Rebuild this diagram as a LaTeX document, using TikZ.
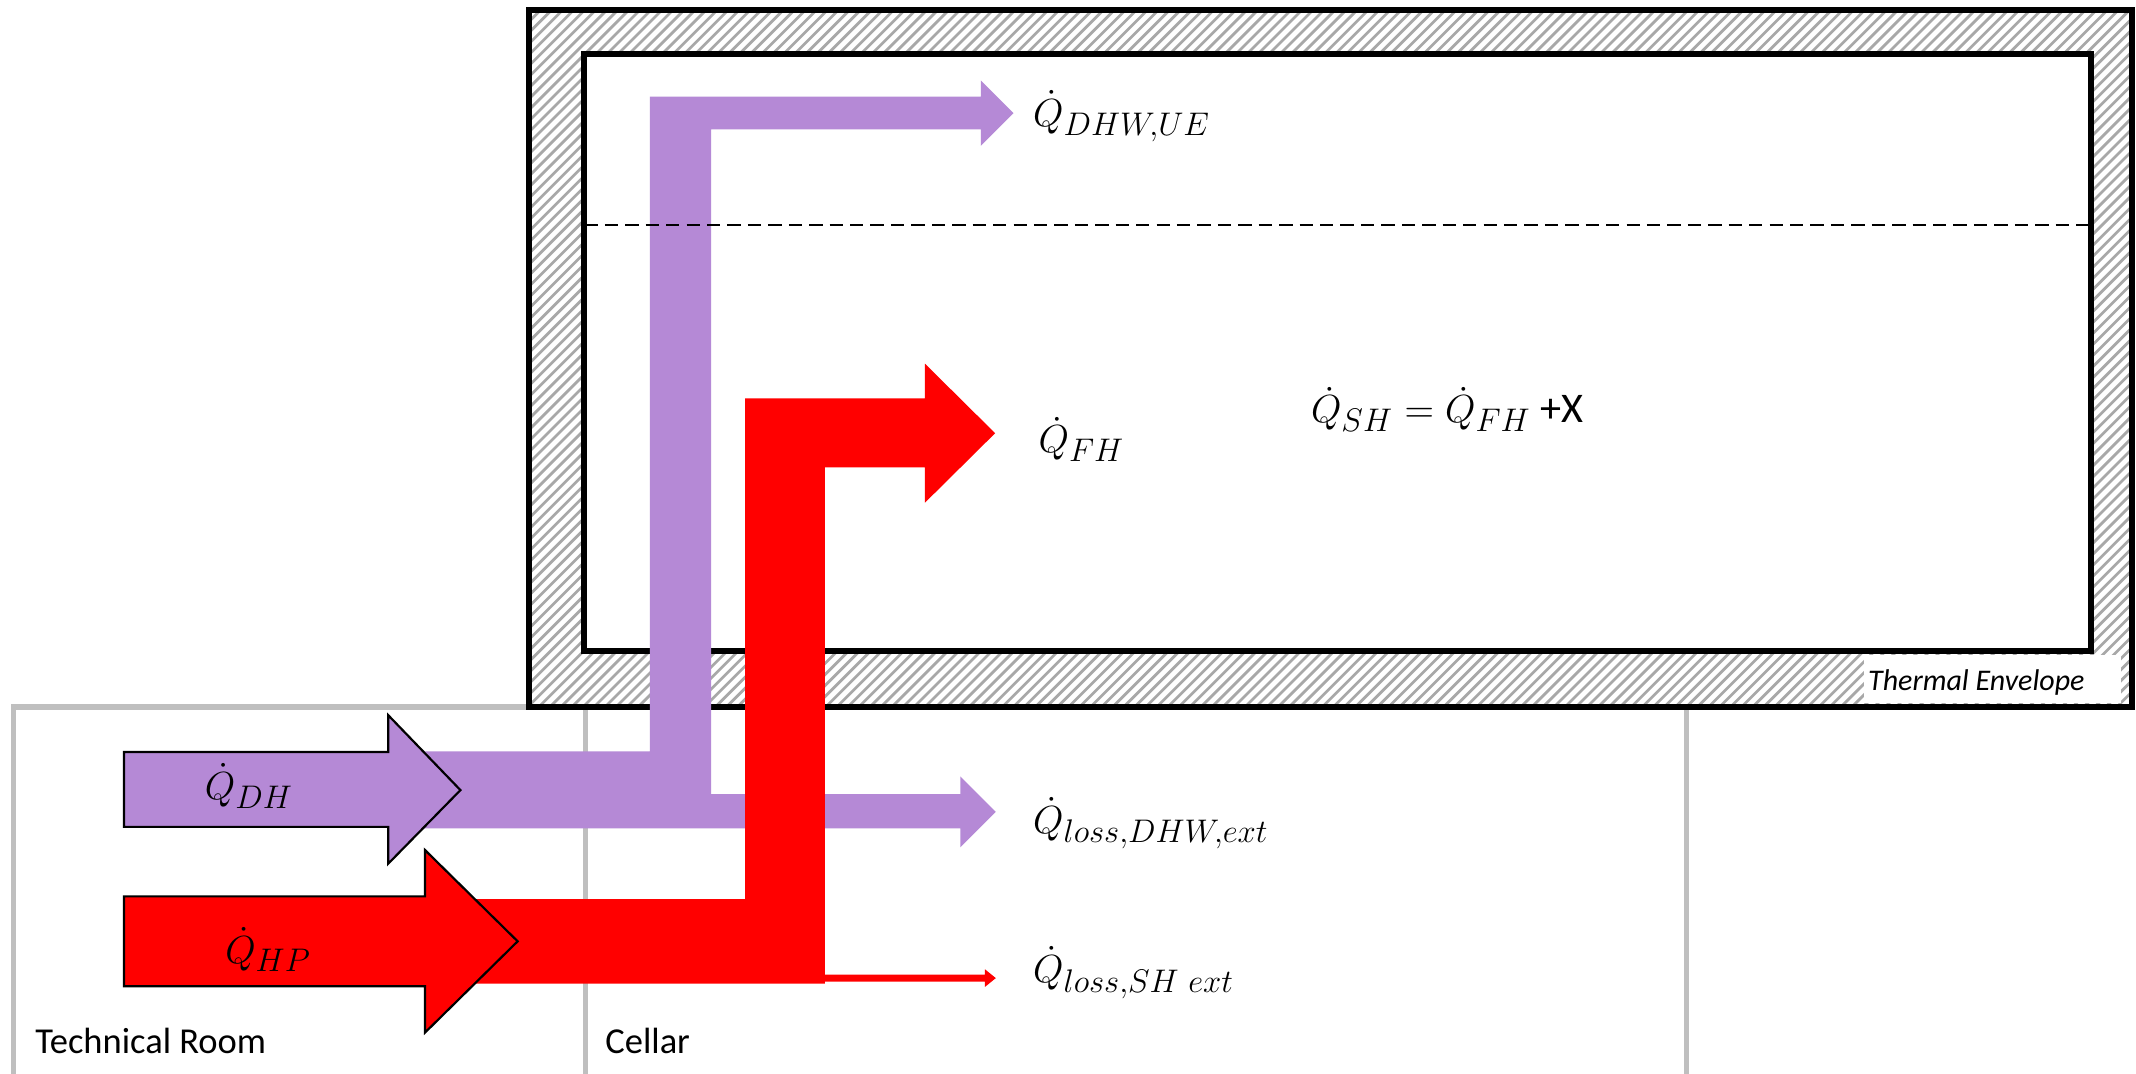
\documentclass[tikz,border=0pt]{standalone}
\usepackage{fontspec}
\setmainfont{Carlito}
\DeclareMathSizes{15.5}{15.5}{12}{9}
\definecolor{flowpurple}{RGB}{181,137,214}
\definecolor{flowred}{RGB}{255,0,0}
\definecolor{roomgray}{RGB}{191,191,191}
\definecolor{hatchgray}{RGB}{168,168,168}
\begin{document}
\begin{tikzpicture}[x=0.5pt,y=-0.5pt,
  roomline/.style={draw=roomgray, line width=2pt},
  wall/.style={draw=black, line width=2.2pt},
  hatchline/.style={draw=hatchgray, line width=1.0pt},
  pflow/.style={fill=flowpurple, draw=none},
  rflow/.style={fill=flowred, draw=none},
  inarrow/.style={draw=black, line width=0.8pt, line join=miter},
  lbl/.style={font=\fontsize{15.5}{18}\selectfont, inner sep=0pt, anchor=base west},
  roomlbl/.style={font=\fontsize{13.4}{16}\selectfont, inner sep=0pt, anchor=base west},
  envlbl/.style={font=\fontsize{11}{13}\selectfont\itshape, inner sep=0pt, anchor=base west},
  zonesep/.style={draw=black, line width=0.75pt, dash pattern=on 4.9pt off 2.6pt}
]
% canvas
\fill[white] (0,0) rectangle (1568,788);
\useasboundingbox (0,0) rectangle (1568,788);

% rooms (technical room, cellar, right room)
\draw[roomline] (10,800) -- (10,519) -- (1238,519) -- (1238,800);
\draw[roomline] (430,519) -- (430,800);

% thermal envelope hatching
\begin{scope}[even odd rule]
  \clip (388,7) rectangle (1565,519) (429,40) rectangle (1535,478);
  \foreach \k in {0,...,212}
    \draw[hatchline] ({388-530+\k*8.1},530) -- ++(530,-530);
\end{scope}
\draw[wall] (388,7) rectangle (1565,519);
\draw[wall] (429,40) rectangle (1535,478);

% thermal envelope label
\fill[white] (1368,481) rectangle (1557,516);
\node[envlbl] (env) at (1371,507) {Thermal Envelope};

% purple flow (domestic hot water)
\path[pflow] (300,551.5) -- (477,551.5) -- (477,71) -- (720,71) -- (720,59)
  -- (744,83) -- (720,107) -- (720,95) -- (522,95) -- (522,583) -- (705,583)
  -- (705,570) -- (731,596) -- (705,622) -- (705,608) -- (300,608) -- cycle;

% red flow (heat pump)
\path[rflow] (330,660) -- (547,660) -- (547,292.5) -- (679,292.5) -- (679,267)
  -- (730.5,318) -- (679,369) -- (679,343) -- (605.5,343) -- (605.5,722)
  -- (330,722) -- cycle;
\path[rflow] (605,715.5) -- (723,715.5) -- (723,711.5) -- (731,718)
  -- (723,724.5) -- (723,720.5) -- (605,720.5) -- cycle;

% zone separation (dashed)
\draw[zonesep] (429,165) -- (1535,165);

% input arrows
\path[inarrow, fill=flowpurple] (91,552) -- (285,552) -- (285,525) -- (338,580)
  -- (285,634) -- (285,607) -- (91,607) -- cycle;
\path[inarrow, fill=flowred] (91,658) -- (312,658) -- (312,624) -- (380,691)
  -- (312,758) -- (312,724) -- (91,724) -- cycle;

% labels
\node[lbl] (qdh) at (150,587) {$\dot Q_{DH}$};
\node[lbl] (qhp) at (165,707) {$\dot Q_{HP}$};
\node[lbl] (qdhwue) at (758,93) {$\dot Q_{DHW,UE}$};
\node[lbl] (qfh) at (762,332.5) {$\dot Q_{FH}$};
\node[lbl] (qsh) at (962,310.5) {$\dot Q_{SH} = \dot Q_{FH}$ +X};
\node[lbl] (qlossdhw) at (758,611.5) {$\dot Q_{loss,DHW,ext}$};
\node[lbl] (qlosssh) at (758,721.5) {$\dot Q_{loss,SH\ ext}$};
\node[roomlbl] (tech) at (25.5,773) {Technical Room};
\node[roomlbl] (cellar) at (444,773) {Cellar};
\end{tikzpicture}
\end{document}
